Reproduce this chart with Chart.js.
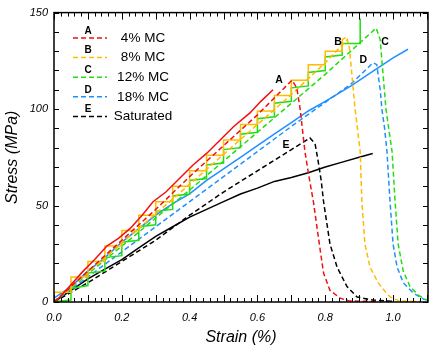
<!DOCTYPE html>
<html>
<head>
<meta charset="utf-8">
<script src="https://cdn.jsdelivr.net/npm/chart.js@4.4.0/dist/chart.umd.min.js"></script>
<style>
  body { margin: 0; background: #fff; }
  #wrap { width: 438px; height: 352px; }
</style>
</head>
<body>
<div id="wrap"><canvas id="stressChart" width="438" height="352"></canvas></div>
<script>
// curves: [strain (%), stress (MPa)]
const curveA_solid = [[0,0],[0.02,3],[0.05,9],[0.086,16],[0.12,22],[0.156,29],[0.19,33],[0.224,38],[0.26,45],[0.292,52],[0.33,57],[0.37,64],[0.41,71],[0.45,77],[0.49,84],[0.53,91],[0.578,98],[0.61,104],[0.646,110]];
const curveA_dash = [[0,0],[0.1,16],[0.2,32],[0.3,48],[0.4,65],[0.5,81],[0.6,97],[0.702,115],[0.716,111],[0.726,100],[0.74,78],[0.752,65],[0.765,52],[0.785,27],[0.795,15],[0.814,6],[0.844,2],[0.87,0.5],[0.95,0.3]];
const curveB_solid = [[0,0],[0,5],[0.05,5],[0.05,13],[0.1,13],[0.1,21],[0.15,21],[0.15,29],[0.2,29],[0.2,37],[0.25,37],[0.25,45],[0.3,45],[0.3,52],[0.35,52],[0.35,60],[0.4,60],[0.4,68],[0.45,68],[0.45,76],[0.5,76],[0.5,84],[0.55,84],[0.55,92],[0.6,92],[0.6,99],[0.65,99],[0.65,107],[0.7,107],[0.7,115],[0.75,115],[0.75,123],[0.8,123],[0.8,130],[0.85,130],[0.85,136],[0.86,137]];
const curveB_dash = [[0,0],[0.2,30.5],[0.4,61],[0.6,92],[0.7,107.5],[0.8,124],[0.865,136],[0.871,132],[0.879,117],[0.888,100],[0.903,78],[0.908,52],[0.917,30],[0.932,18],[0.956,10],[0.985,3.6],[0.997,2],[1.02,0.5],[1.08,0.3]];
const curveC_solid = [[0,0],[0.02,0.5],[0.05,1],[0.05,7],[0.1,8.5],[0.1,15],[0.15,16],[0.15,23],[0.2,24],[0.2,31],[0.25,32],[0.25,39],[0.3,40],[0.3,47],[0.35,48],[0.35,55],[0.4,56],[0.4,63],[0.45,64],[0.45,71],[0.5,72],[0.5,79],[0.55,80],[0.55,87],[0.6,88],[0.6,95],[0.65,96],[0.65,103],[0.7,104],[0.7,111],[0.75,112],[0.75,119],[0.8,120],[0.8,127],[0.85,128],[0.85,134],[0.903,134],[0.903,147]];
const curveC_dash = [[0,0],[0.2,29],[0.4,58],[0.6,88],[0.7,103],[0.8,118],[0.9,134],[0.95,142],[0.962,136],[0.971,117],[0.979,100],[0.997,78],[1.006,52],[1.015,30],[1.03,16],[1.05,8],[1.074,3.6],[1.094,1.5],[1.103,1]];
const curveD_solid = [[0,2],[0.05,8],[0.1,16],[0.15,23],[0.2,31],[0.25,38],[0.3,45],[0.35,51],[0.4,56],[0.45,63],[0.5,69],[0.55,75],[0.6,81],[0.658,88],[0.7,93],[0.75,99],[0.8,104],[0.876,112],[0.94,119.5],[1.0,126.5],[1.044,131]];
const curveD_dash = [[0,0],[0.1,13],[0.2,26],[0.3,39],[0.4,52],[0.5,65],[0.6,78],[0.7,91],[0.8,103.5],[0.876,113],[0.941,124],[0.952,123],[0.962,110],[0.967,100],[0.975,90],[0.982,78],[0.991,52],[1.0,30],[1.012,18],[1.03,10],[1.06,4.6],[1.09,1.5],[1.103,0.8]];
const curveE_solid = [[0,0],[0.05,6],[0.1,12],[0.15,17],[0.2,22],[0.25,28],[0.3,34],[0.35,39],[0.4,44],[0.45,48],[0.5,52],[0.55,56],[0.6,59],[0.65,62.5],[0.7,64.5],[0.75,67],[0.8,70],[0.85,72.5],[0.9,75],[0.94,77]];
const curveE_dash = [[0,0],[0.1,10],[0.2,21],[0.3,32],[0.4,45],[0.5,57],[0.6,68],[0.7,79],[0.755,85],[0.77,82],[0.779,73],[0.788,63],[0.795,52],[0.814,30],[0.835,18],[0.864,8],[0.894,2.6],[0.94,1],[1.0,0.3]];

const xTickValues = [0, 0.2, 0.4, 0.6, 0.8, 1.0];
const xTickLabels = ['0.0', '0.2', '0.4', '0.6', '0.8', '1.0'];
const yTickValues = [0, 50, 100, 150];
const yTickLabels = ['0', '50', '100', '150'];

const legendLetters = ['A', 'B', 'C', 'D', 'E'];
const legendNames = ['4% MC', '8% MC', '12% MC', '18% MC', 'Saturated'];
const letterStrain = [0.664, 0.838, 0.976, 0.912, 0.684];
const letterStress = [115, 134.6, 134.6, 125.3, 81.1];

const colors = ['#f01010', '#ffbb00', '#22dd11', '#1e90ff', '#000000'];
const fontFam = '"Liberation Sans", Arial, Helvetica, sans-serif';

function makeSet(points, color, dashed) {
  return {
    data: points.map(p => ({ x: p[0], y: p[1] })),
    borderColor: color,
    borderWidth: 1.5,
    borderDash: dashed ? [5, 3] : [],
    pointRadius: 0,
    showLine: true,
    fill: false,
    tension: 0
  };
}

// marcos, ticks hacia adentro, leyenda y letras de las curvas
const frameAndLegend = {
  id: 'frameAndLegend',
  afterDatasetsDraw(chart) {
    const { ctx, chartArea: a, scales: { x, y } } = chart;
    ctx.save();
    ctx.strokeStyle = '#000';
    ctx.lineWidth = 1;
    ctx.setLineDash([]);
    for (let i = 0; i <= 55; i++) {
      const px = Math.round(x.getPixelForValue(i * 0.02)) + 0.5;
      const len = i % 5 === 0 ? 7 : 4;
      ctx.beginPath();
      ctx.moveTo(px, a.bottom); ctx.lineTo(px, a.bottom - len);
      ctx.moveTo(px, a.top); ctx.lineTo(px, a.top + len);
      ctx.stroke();
    }
    for (let v = 0; v <= 150; v += 10) {
      const py = Math.round(y.getPixelForValue(v)) + 0.5;
      ctx.beginPath();
      ctx.moveTo(a.left, py); ctx.lineTo(a.left + 5, py);
      ctx.moveTo(a.right, py); ctx.lineTo(a.right - 5, py);
      ctx.stroke();
    }
    ctx.lineWidth = 1.5;
    ctx.strokeRect(a.left, a.top, a.right - a.left, a.bottom - a.top);

    // leyenda
    ctx.textAlign = 'center';
    ctx.textBaseline = 'middle';
    legendNames.forEach((name, i) => {
      const ly = 38 + i * 19.6;
      ctx.strokeStyle = colors[i];
      ctx.lineWidth = 1.5;
      ctx.setLineDash([5, 3]);
      ctx.beginPath();
      ctx.moveTo(73, ly); ctx.lineTo(107, ly);
      ctx.stroke();
      ctx.setLineDash([]);
      ctx.fillStyle = '#000';
      ctx.font = 'bold 10px ' + fontFam;
      ctx.fillText(legendLetters[i], 88, ly - 7);
      ctx.font = '13.5px ' + fontFam;
      ctx.fillText(name, 143, ly);
    });

    // letras sobre las curvas
    ctx.font = 'bold 10.5px ' + fontFam;
    legendLetters.forEach((l, i) => {
      ctx.fillText(l, x.getPixelForValue(letterStrain[i]), y.getPixelForValue(letterStress[i]));
    });
    ctx.restore();
  }
};

const ctx = document.getElementById('stressChart').getContext('2d');
new Chart(ctx, {
  type: 'scatter',
  data: {
    datasets: [
      makeSet(curveA_solid, colors[0], false),
      makeSet(curveA_dash, colors[0], true),
      makeSet(curveB_solid, colors[1], false),
      makeSet(curveB_dash, colors[1], true),
      makeSet(curveC_solid, colors[2], false),
      makeSet(curveC_dash, colors[2], true),
      makeSet(curveD_solid, colors[3], false),
      makeSet(curveD_dash, colors[3], true),
      makeSet(curveE_solid, colors[4], false),
      makeSet(curveE_dash, colors[4], true)
    ]
  },
  options: {
    responsive: false,
    animation: false,
    layout: { padding: { left: 0, right: 10, top: 10, bottom: 0 } },
    plugins: { legend: { display: false }, tooltip: { enabled: false } },
    scales: {
      x: {
        type: 'linear',
        min: 0,
        max: 1.103,
        grid: { display: false, drawTicks: false },
        border: { display: false },
        afterBuildTicks: s => { s.ticks = xTickValues.map(v => ({ value: v })); },
        afterFit: s => { s.height = 50; },
        ticks: {
          padding: 9,
          color: '#000',
          maxRotation: 0,
          autoSkip: false,
          font: { family: fontFam, size: 11, style: 'italic' },
          callback: (v, i) => xTickLabels[i]
        },
        title: {
          display: true,
          text: 'Strain (%)',
          color: '#000',
          padding: { top: 0, bottom: 5 },
          font: { family: fontFam, size: 16, style: 'italic' }
        }
      },
      y: {
        type: 'linear',
        min: 0,
        max: 150,
        grid: { display: false, drawTicks: false },
        border: { display: false },
        afterBuildTicks: s => { s.ticks = yTickValues.map(v => ({ value: v })); },
        afterFit: s => { s.width = 54; },
        ticks: {
          padding: 6,
          color: '#000',
          autoSkip: false,
          font: { family: fontFam, size: 11, style: 'italic' },
          callback: (v, i) => yTickLabels[i]
        },
        title: {
          display: true,
          text: 'Stress (MPa)',
          color: '#000',
          padding: { top: 3, bottom: 0 },
          font: { family: fontFam, size: 16, style: 'italic' }
        }
      }
    }
  },
  plugins: [frameAndLegend]
});
</script>
</body>
</html>
